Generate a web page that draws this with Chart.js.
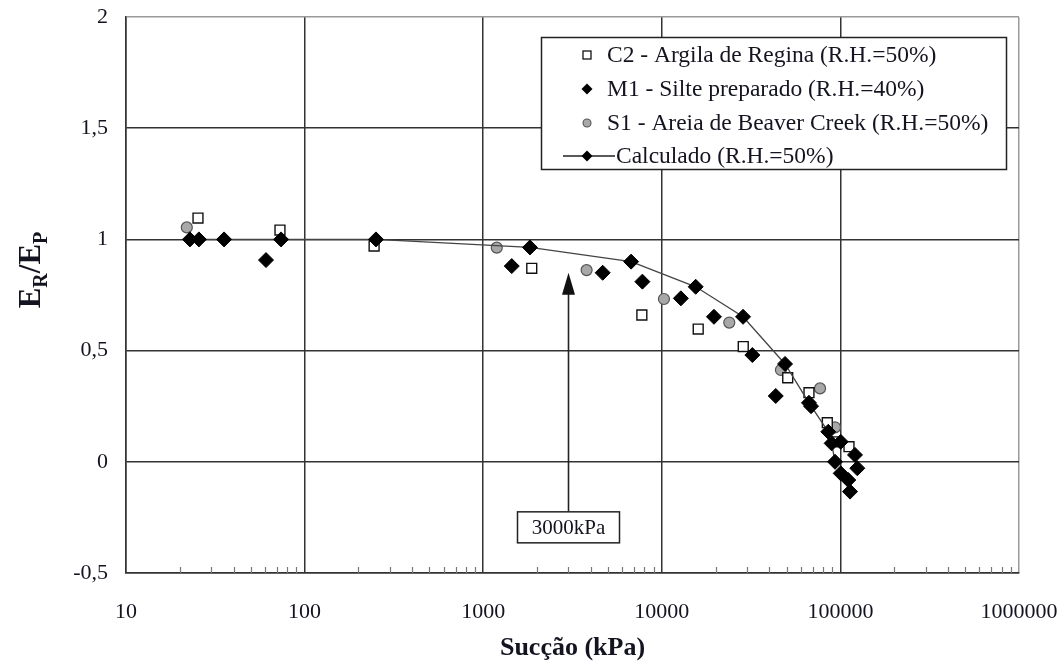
<!DOCTYPE html>
<html><head><meta charset="utf-8">
<script src="https://cdn.jsdelivr.net/npm/chart.js@4.4.1/dist/chart.umd.min.js"></script>
<style>html,body{margin:0;padding:0;background:#fff}#wrap{width:1064px;height:669px}</style>
</head><body><div id="wrap"><canvas id="c" width="1064" height="669"></canvas></div>
<script>
// ---- data ----
const xTicks = [10, 100, 1000, 10000, 100000, 1000000];
const yTicks = [-0.5, 0, 0.5, 1, 1.5, 2];
const seriesLabels = [
  'C2 - Argila de Regina (R.H.=50%)',
  'M1 - Silte preparado (R.H.=40%)',
  'S1 - Areia de Beaver Creek (R.H.=50%)',
  'Calculado (R.H.=50%)'
];
const c2X = [25.3, 72.8, 245, 1870, 7733, 15990, 28580, 50700, 66680, 84470, 95300, 111700];
const c2Y = [1.096, 1.042, 0.97, 0.87, 0.66, 0.597, 0.518, 0.378, 0.311, 0.176, 0.09, 0.068];
const m1X = [60.8, 1445, 4667, 7785, 12790, 19590, 32140, 43450, 68500, 100400, 120700, 124400, 100400, 110700, 113200];
const m1Y = [0.907, 0.88, 0.85, 0.81, 0.735, 0.652, 0.48, 0.296, 0.25, 0.09, 0.031, -0.029, -0.052, -0.082, -0.134];
const s1X = [21.9, 1191, 3793, 10280, 23870, 46440, 76910, 93300];
const s1Y = [1.054, 0.963, 0.862, 0.732, 0.626, 0.413, 0.330, 0.155];
const calcX = [22.8, 25.6, 35.4, 73.8, 251, 1828, 6730, 15480, 28500, 48980, 66680, 85530, 89300, 93300];
const calcY = [1.0, 1.0, 1.0, 1.0, 1.0, 0.964, 0.9, 0.787, 0.652, 0.44, 0.265, 0.135, 0.083, 0.0];
const arrowValue = 3000;
const arrowLabel = '3000kPa';
const arrowTipY = 0.85;
const arrowBaseY = -0.225;
const xTitle = 'Sucção (kPa)';

const pts = (xs, ys) => xs.map((x, i) => ({x: x, y: ys[i]}));
const FONT = '"Liberation Serif", "Times New Roman", serif';
const TXT = '#141420';

const styles = [
  {pointStyle: 'rect', pointRadius: 7, backgroundColor: '#ffffff', borderColor: '#111', borderWidth: 1.4},
  {pointStyle: 'rectRot', pointRadius: 7.5, backgroundColor: '#000', borderColor: '#000', borderWidth: 1},
  {pointStyle: 'circle', pointRadius: 5.5, backgroundColor: '#a8a8a8', borderColor: '#555', borderWidth: 1.2},
  {pointStyle: 'rectRot', pointRadius: 7.5, backgroundColor: '#000', borderColor: '#000', borderWidth: 1}
];

const datasets = [
  Object.assign({label: seriesLabels[1], data: pts(m1X, m1Y), showLine: false, order: 1}, styles[1]),
  Object.assign({label: seriesLabels[3], data: pts(calcX, calcY), showLine: true, lineTension: 0, order: 1,
    pointBackgroundColor: '#000', pointBorderColor: '#000', borderColor: '#444', borderWidth: 1.3,
    pointStyle: 'rectRot', pointRadius: 7.5, pointBorderWidth: 1}),
  Object.assign({label: seriesLabels[0], data: pts(c2X, c2Y), showLine: false, order: 2}, styles[0]),
  Object.assign({label: seriesLabels[2], data: pts(s1X, s1Y), showLine: false, order: 3}, styles[2])
];

const minorTicks = {
  id: 'minorTicks',
  afterDatasetsDraw(chart) {
    const ctx = chart.ctx, xs = chart.scales.x, ca = chart.chartArea;
    ctx.save();
    ctx.strokeStyle = '#777';
    ctx.lineWidth = 1.2;
    for (let d = 1; d < 6; d++) {
      for (let m = 2; m <= 9; m++) {
        const v = m * Math.pow(10, d);
        const px = Math.round(xs.getPixelForValue(v)) + 0.5;
        ctx.beginPath();
        ctx.moveTo(px, ca.bottom);
        ctx.lineTo(px, ca.bottom - 6);
        ctx.stroke();
      }
    }
    ctx.restore();
  }
};

const annot = {
  id: 'annot',
  afterDatasetsDraw(chart) {
    const ctx = chart.ctx, xs = chart.scales.x, ys = chart.scales.y;
    const ax = Math.round(xs.getPixelForValue(arrowValue)) + 0.5;
    const tip = ys.getPixelForValue(arrowTipY);
    const base = ys.getPixelForValue(arrowBaseY);
    ctx.save();
    ctx.strokeStyle = '#222';
    ctx.fillStyle = '#111';
    ctx.lineWidth = 1.6;
    ctx.beginPath();
    ctx.moveTo(ax, base);
    ctx.lineTo(ax, tip + 20);
    ctx.stroke();
    ctx.beginPath();
    ctx.moveTo(ax, tip);
    ctx.lineTo(ax - 6.5, tip + 22);
    ctx.lineTo(ax + 6.5, tip + 22);
    ctx.closePath();
    ctx.fill();
    ctx.font = '21px ' + FONT;
    const w = 102, h = 31;
    const bx = ax - 51, by = base;
    ctx.fillStyle = '#fff';
    ctx.fillRect(bx, by, w, h);
    ctx.lineWidth = 1.5;
    ctx.strokeStyle = '#222';
    ctx.strokeRect(bx, by, w, h);
    ctx.fillStyle = TXT;
    ctx.textAlign = 'center';
    ctx.textBaseline = 'middle';
    ctx.fillText(arrowLabel, ax, by + h / 2 + 1);
    ctx.restore();
  }
};

const legendBox = {
  id: 'legendBox',
  afterDraw(chart) {
    const ctx = chart.ctx;
    const x0 = 541.5, y0 = 37.5, w = 465, h = 132;
    ctx.save();
    ctx.fillStyle = '#fff';
    ctx.fillRect(x0, y0, w, h);
    ctx.strokeStyle = '#222';
    ctx.lineWidth = 1.5;
    ctx.strokeRect(x0, y0, w, h);
    const mx = 587;
    const rows = [55, 89, 123, 156];
    ctx.textBaseline = 'middle';
    ctx.fillStyle = '#fff'; ctx.strokeStyle = '#111'; ctx.lineWidth = 1.3;
    ctx.fillRect(mx - 4, rows[0] - 4, 8, 8); ctx.strokeRect(mx - 4, rows[0] - 4, 8, 8);
    const diamond = (cx, cy, r) => { ctx.beginPath(); ctx.moveTo(cx, cy - r); ctx.lineTo(cx + r, cy); ctx.lineTo(cx, cy + r); ctx.lineTo(cx - r, cy); ctx.closePath(); ctx.fillStyle = '#000'; ctx.fill(); };
    diamond(mx, rows[1], 5.5);
    ctx.beginPath(); ctx.arc(mx, rows[2], 4, 0, Math.PI * 2); ctx.fillStyle = '#a8a8a8'; ctx.fill();
    ctx.strokeStyle = '#555'; ctx.lineWidth = 1.1; ctx.stroke();
    ctx.beginPath(); ctx.moveTo(563, rows[3]); ctx.lineTo(615, rows[3]); ctx.strokeStyle = '#222'; ctx.lineWidth = 1.4; ctx.stroke();
    diamond(mx, rows[3], 5.5);
    ctx.fillStyle = TXT;
    ctx.textAlign = 'left';
    ctx.font = '23.5px ' + FONT;
    ctx.fillText(seriesLabels[0], 607, rows[0] + 1);
    ctx.fillText(seriesLabels[1], 607, rows[1] + 1);
    ctx.fillText(seriesLabels[2], 607, rows[2] + 1);
    ctx.fillText(seriesLabels[3], 616, rows[3] + 1);
    ctx.restore();
  }
};

const titles = {
  id: 'titles',
  afterDraw(chart) {
    const ctx = chart.ctx, ca = chart.chartArea;
    ctx.save();
    ctx.fillStyle = TXT;
    ctx.font = 'bold 26px ' + FONT;
    ctx.textAlign = 'center';
    ctx.textBaseline = 'middle';
    ctx.fillText(xTitle, (ca.left + ca.right) / 2, 648);
    const big = 'bold 31px ' + FONT, small = 'bold 20px ' + FONT;
    const parts = [['E', big, 0], ['R', small, 7], ['/', big, 0], ['E', big, 0], ['P', small, 7]];
    let total = 0;
    parts.forEach(p => { ctx.font = p[1]; total += ctx.measureText(p[0]).width; });
    ctx.translate(30, 270);
    ctx.rotate(-Math.PI / 2);
    ctx.textAlign = 'left';
    ctx.textBaseline = 'alphabetic';
    let x = -total / 2;
    parts.forEach(p => { ctx.font = p[1]; ctx.fillText(p[0], x, 10 + p[2]); x += ctx.measureText(p[0]).width; });
    ctx.restore();
  }
};

new Chart(document.getElementById('c'), {
  type: 'scatter',
  data: {datasets: datasets},
  options: {
    responsive: false,
    animation: false,
    layout: {padding: {left: 0, right: 45, top: 17, bottom: 0}},
    plugins: {legend: {display: false}, tooltip: {enabled: false}},
    scales: {
      x: {
        type: 'logarithmic', min: xTicks[0], max: xTicks[xTicks.length - 1],
        afterBuildTicks: s => { s.ticks = xTicks.map(v => ({value: v})); },
        afterFit: s => { s.height = 96; },
        grid: {color: c => (c.tick && c.tick.value === 1000000) ? '#9a9a9a' : '#333', lineWidth: 1.5,
          drawTicks: true, tickLength: 24, tickColor: 'rgba(0,0,0,0)'},
        border: {color: '#333', width: 1.5},
        ticks: {padding: 2, color: TXT, font: {family: FONT, size: 22}, maxRotation: 0, autoSkip: false,
          callback: v => String(v)}
      },
      y: {
        min: yTicks[0], max: yTicks[yTicks.length - 1],
        afterBuildTicks: s => { s.ticks = yTicks.map(v => ({value: v})); },
        afterFit: s => { s.width = 126; },
        grid: {color: c => (c.tick && c.tick.value === 2) ? '#9a9a9a' : '#333', lineWidth: 1.5,
          drawTicks: true, tickLength: 18, tickColor: 'rgba(0,0,0,0)'},
        border: {color: '#333', width: 1.5},
        ticks: {padding: 0, color: TXT, font: {family: FONT, size: 22},
          callback: v => String(v).replace('.', ',')}
      }
    }
  },
  plugins: [minorTicks, annot, legendBox, titles]
});
</script></body></html>
